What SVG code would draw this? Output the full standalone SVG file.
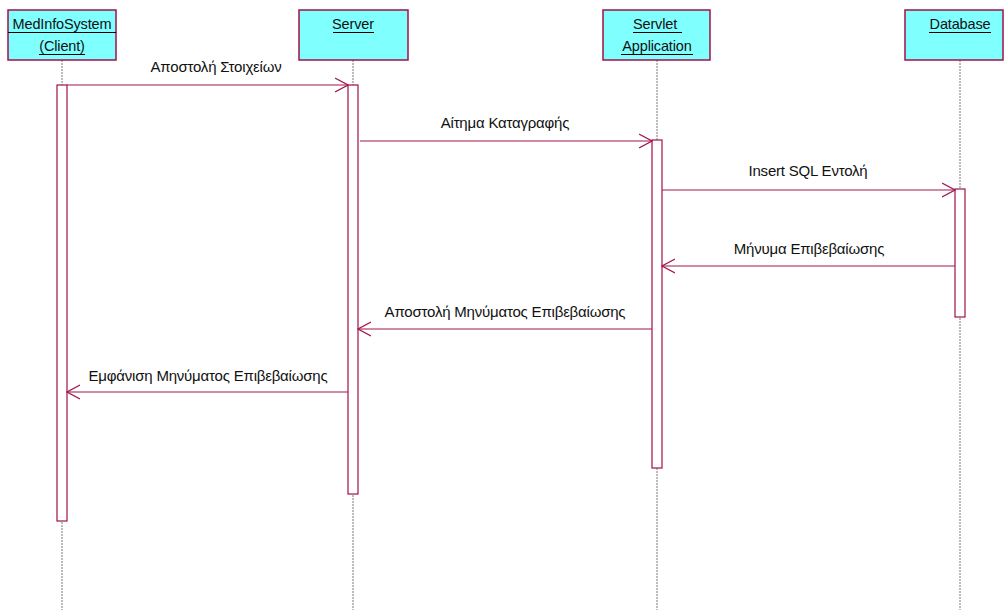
<svg xmlns="http://www.w3.org/2000/svg" width="1004" height="610" viewBox="0 0 1004 610">
  <style>
    .head { fill: #80FFFF; stroke: #A0104A; stroke-width: 1.5; }
    .life { stroke: #7A7A7A; stroke-width: 1; stroke-dasharray: 2 1; fill: none; }
    .act { fill: #FFFFFF; stroke: #A0104A; stroke-width: 1.2; }
    .msg { stroke: #A3164F; stroke-width: 1.2; fill: none; }
    .ul { stroke: #000000; stroke-width: 1; }
    text { font-family: "Liberation Sans", Arial, sans-serif; font-size: 15px; letter-spacing: -0.2px; fill: #111111; }
    .title { text-anchor: middle; font-size: 14.5px; letter-spacing: -0.15px; }
    .lbl { text-anchor: middle; }
  </style>
  <defs>
    <marker id="open" markerWidth="14" markerHeight="16" refX="13" refY="8" orient="auto" markerUnits="userSpaceOnUse">
      <polyline points="0,1 13,8 0,15" fill="none" stroke="#A3164F" stroke-width="1.2"/>
    </marker>
  </defs>
  <rect width="1004" height="610" fill="#FFFFFF"/>

  <!-- lifelines -->
  <g id="lifelines">
    <line class="life" x1="62" y1="60" x2="62" y2="610"/>
    <line class="life" x1="353" y1="60" x2="353" y2="610"/>
    <line class="life" x1="657" y1="60" x2="657" y2="610"/>
    <line class="life" x1="960" y1="60" x2="960" y2="610"/>
  </g>

  <!-- participants -->
  <g id="client">
    <rect class="head" x="8" y="10" width="108" height="50"/>
    <text class="title" x="62" y="29">MedInfoSystem</text>
    <line class="ul" x1="8" y1="32.5" x2="116" y2="32.5"/>
    <text class="title" x="62" y="51">(Client)</text>
    <line class="ul" x1="39" y1="54.5" x2="85" y2="54.5"/>
    <rect class="act" x="57" y="85" width="10" height="436"/>
  </g>
  <g id="server">
    <rect class="head" x="299" y="10" width="109" height="50"/>
    <text class="title" x="353" y="29">Server</text>
    <line class="ul" x1="333" y1="32.5" x2="374" y2="32.5"/>
    <rect class="act" x="348" y="85" width="10" height="409"/>
  </g>
  <g id="servlet">
    <rect class="head" x="603" y="10" width="107" height="50"/>
    <text class="title" x="655" y="29">Servlet</text>
    <line class="ul" x1="633" y1="32.5" x2="682" y2="32.5"/>
    <text class="title" x="657" y="51">Application</text>
    <line class="ul" x1="621" y1="54.5" x2="693" y2="54.5"/>
    <rect class="act" x="652" y="140" width="10" height="328"/>
  </g>
  <g id="database">
    <rect class="head" x="905" y="10" width="98" height="50"/>
    <text class="title" x="960" y="29">Database</text>
    <line class="ul" x1="929" y1="32.5" x2="991" y2="32.5"/>
    <rect class="act" x="955" y="189" width="10" height="128"/>
  </g>

  <!-- messages -->
  <g id="messages">
    <line class="msg" x1="67" y1="85" x2="348" y2="85" marker-end="url(#open)"/>
    <text class="lbl" x="216" y="72">Αποστολή Στοιχείων</text>

    <line class="msg" x1="360" y1="141" x2="652" y2="141" marker-end="url(#open)"/>
    <text class="lbl" x="505" y="128">Αίτημα Καταγραφής</text>

    <line class="msg" x1="662" y1="190" x2="955" y2="190" marker-end="url(#open)"/>
    <text class="lbl" x="808" y="176">Insert SQL Εντολή</text>

    <line class="msg" x1="955" y1="266" x2="662" y2="266" marker-end="url(#open)"/>
    <text class="lbl" x="809" y="254">Μήνυμα Επιβεβαίωσης</text>

    <line class="msg" x1="652" y1="329" x2="358" y2="329" marker-end="url(#open)"/>
    <text class="lbl" x="505" y="317">Αποστολή Μηνύματος Επιβεβαίωσης</text>

    <line class="msg" x1="348" y1="392" x2="67" y2="392" marker-end="url(#open)"/>
    <text class="lbl" x="208" y="381">Εμφάνιση Μηνύματος Επιβεβαίωσης</text>
  </g>
</svg>
